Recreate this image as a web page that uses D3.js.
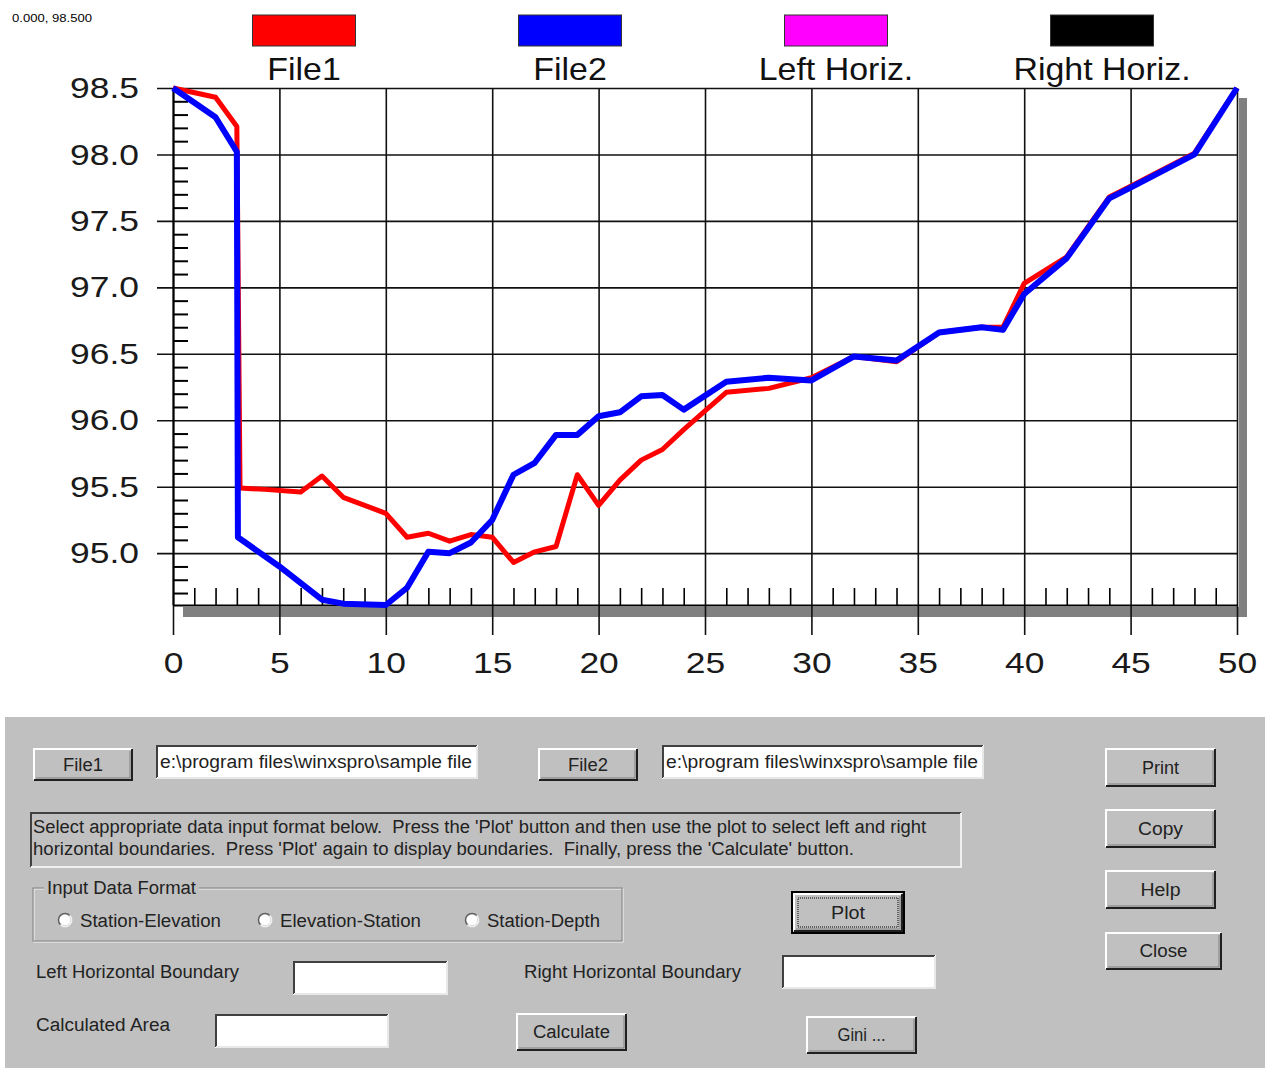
<!DOCTYPE html>
<html>
<head>
<meta charset="utf-8">
<script src="https://cdn.jsdelivr.net/npm/d3@7"></script>
<style>
  body { margin: 0; background: #fff; }
  svg { display: block; font-family: 'Liberation Sans', Arial, sans-serif; }
</style>
</head>
<body>
<div id="chart"></div>
<script>
// station / elevation pairs
const stations1 = [0, 2, 3, 3.15, 4.3, 6, 7, 8, 10, 11, 12, 13, 14, 15, 16, 17, 18, 19, 20, 21, 22, 23, 24, 25, 26, 28, 30, 32, 34, 36, 38, 39, 40, 42, 44, 45, 48, 50]
const elev1 = [98.5, 98.43, 98.21, 95.49, 95.48, 95.46, 95.58, 95.42, 95.30, 95.12, 95.15, 95.09, 95.14, 95.12, 94.93, 95.01, 95.05, 95.59, 95.36, 95.55, 95.70, 95.78, 95.93, 96.07, 96.21, 96.24, 96.32, 96.48, 96.44, 96.66, 96.70, 96.70, 97.03, 97.23, 97.68, 97.76, 98.01, 98.5]

const stations2 = [0, 2, 3, 3.05, 5, 7, 8, 10, 11, 12, 13, 14, 15, 16, 17, 18, 19, 20, 21, 22, 23, 24, 26, 28, 30, 32, 34, 36, 38, 39, 40, 42, 44, 45, 48, 50]
const elev2 = [98.5, 98.28, 98.02, 95.12, 94.90, 94.65, 94.62, 94.61, 94.74, 95.01, 95.0, 95.08, 95.25, 95.59, 95.68, 95.89, 95.89, 96.03, 96.06, 96.18, 96.19, 96.08, 96.29, 96.32, 96.30, 96.48, 96.45, 96.66, 96.70, 96.68, 96.95, 97.22, 97.67, 97.75, 98.0, 98.5]

const legendNames = ['File1', 'File2', 'Left Horiz.', 'Right Horiz.']
const legendColors = ['#ff0000', '#0000ff', '#ff00ff', '#000000']

const xMajorTicks = [0, 5, 10, 15, 20, 25, 30, 35, 40, 45, 50]
const yMajorTicks = [95.0, 95.5, 96.0, 96.5, 97.0, 97.5, 98.0, 98.5]
const yDomain = [94.61, 98.5]
const cursorLabel = '0.000, 98.500'

const W = 1265, H = 1068

const svg = d3.select('#chart').append('svg')
  .attr('width', W)
  .attr('height', H)

const x = d3.scaleLinear().domain([0, 50]).range([173, 1237])
const y = d3.scaleLinear().domain(yDomain).range([605, 88])

// stretch svg text horizontally (the original font is wider than Arial)
function stretch (sel, k) {
  sel.each(function () {
    const w = this.getComputedTextLength()
    d3.select(this).attr('textLength', w * k).attr('lengthAdjust', 'spacingAndGlyphs')
  })
}
function fit (sel, w) {
  sel.attr('textLength', w).attr('lengthAdjust', 'spacingAndGlyphs')
}

svg.append('text')
  .attr('x', 12).attr('y', 22)
  .style('font-size', '11px')
  .text(cursorLabel)
  .call(fit, 80)

// legend
const leg = svg.selectAll('.leg')
  .data(legendNames)
  .enter().append('g')
  .attr('class', 'leg')
  .attr('transform', (d, i) => 'translate(' + (304 + i * 266) + ',0)')

leg.append('rect')
  .attr('x', -51.5).attr('y', 15)
  .attr('width', 103).attr('height', 31)
  .attr('fill', (d, i) => legendColors[i])
  .attr('stroke', '#333')
  .attr('stroke-width', 1)

leg.append('text')
  .attr('y', 80)
  .attr('text-anchor', 'middle')
  .attr('fill', '#111')
  .style('font-size', '32px')
  .text(d => d)
  .call(stretch, 1.06)

// drop shadow of the plot frame
svg.append('rect').attr('x', 183).attr('y', 607).attr('width', 1064).attr('height', 10).attr('fill', '#808080')
svg.append('rect').attr('x', 1239).attr('y', 98).attr('width', 8).attr('height', 519).attr('fill', '#808080')

// horizontal grid + labels
const yMinor = d3.range(94.7, 98.5, 0.1).map(v => +v.toFixed(1)).filter(v => yMajorTicks.indexOf(v) < 0)
const xMinor = d3.range(1, 50).filter(v => v % 5 !== 0)

const gy = svg.append('g')
  .attr('transform', 'translate(157,0)')
  .call(d3.axisLeft(y).tickValues(yMajorTicks).tickFormat(d3.format('.1f'))
    .tickSizeInner(-(1237 - 157)).tickSizeOuter(0).tickPadding(18))
gy.select('.domain').remove()
gy.selectAll('.tick line').attr('stroke', '#111').attr('stroke-width', 1.6)
gy.selectAll('.tick text')
  .attr('fill', '#1a1a1a')
  .style('font-size', '30px')
  .style('font-family', "'Liberation Sans', Arial, sans-serif")
  .call(stretch, 1.18)

const gx = svg.append('g')
  .attr('transform', 'translate(0,635)')
  .call(d3.axisBottom(x).tickValues(xMajorTicks).tickFormat(d3.format('d'))
    .tickSizeInner(-(635 - 88)).tickSizeOuter(0).tickPadding(17))
gx.select('.domain').remove()
gx.selectAll('.tick line').attr('stroke', '#111').attr('stroke-width', 1.6)
gx.selectAll('.tick text')
  .attr('fill', '#1a1a1a')
  .style('font-size', '30px')
  .style('font-family', "'Liberation Sans', Arial, sans-serif")
  .call(stretch, 1.18)

// minor ticks and the axis lines themselves
const gym = svg.append('g')
  .attr('transform', 'translate(173,0)')
  .call(d3.axisLeft(y).tickValues(yMinor).tickFormat('').tickSizeInner(-15).tickSizeOuter(0))
gym.selectAll('line, path').attr('stroke', '#000').attr('stroke-width', 2)

const gxm = svg.append('g')
  .attr('transform', 'translate(0,605)')
  .call(d3.axisBottom(x).tickValues(xMinor).tickFormat('').tickSizeInner(-17).tickSizeOuter(0))
gxm.selectAll('line').attr('stroke', '#000').attr('stroke-width', 1.6)
gxm.select('.domain').attr('stroke', '#000').attr('stroke-width', 2.2)

// profiles
const line = d3.line().x(d => x(d[0])).y(d => y(d[1]))

svg.append('path')
  .datum(d3.zip(stations1, elev1))
  .attr('d', line)
  .attr('fill', 'none')
  .attr('stroke', legendColors[0])
  .attr('stroke-width', 5)
  .attr('stroke-linejoin', 'round')

svg.append('path')
  .datum(d3.zip(stations2, elev2))
  .attr('d', line)
  .attr('fill', 'none')
  .attr('stroke', legendColors[1])
  .attr('stroke-width', 6)
  .attr('stroke-linejoin', 'round')

// ---- control panel below the chart ----
const panel = svg.append('g').style('font-size', '18px')

panel.append('rect')
  .attr('x', 5).attr('y', 717).attr('width', W - 5).attr('height', H - 717)
  .attr('fill', '#c0c0c0')

function bevel (g, x0, y0, w, h, tl, br) {
  g.append('path').attr('d', 'M' + x0 + ',' + (y0 + h) + 'V' + y0 + 'H' + (x0 + w))
    .attr('fill', 'none').attr('stroke', tl).attr('stroke-width', 2)
  g.append('path').attr('d', 'M' + x0 + ',' + (y0 + h) + 'H' + (x0 + w) + 'V' + y0)
    .attr('fill', 'none').attr('stroke', br).attr('stroke-width', 2)
}

function button (x0, y0, w, h, label, tw, isDefault) {
  const g = panel.append('g')
  g.append('rect').attr('x', x0).attr('y', y0).attr('width', w).attr('height', h).attr('fill', '#c0c0c0')
  if (isDefault) {
    g.append('rect').attr('x', x0 - 1).attr('y', y0 - 1).attr('width', w + 2).attr('height', h + 2)
      .attr('fill', 'none').attr('stroke', '#000').attr('stroke-width', 2)
  }
  bevel(g, x0 + 1, y0 + 1, w - 2, h - 2, '#ffffff', '#202020')
  g.append('path').attr('d', 'M' + (x0 + 3) + ',' + (y0 + h - 3) + 'H' + (x0 + w - 3) + 'V' + (y0 + 3))
    .attr('fill', 'none').attr('stroke', '#808080').attr('stroke-width', 1)
  if (isDefault) {
    g.append('rect').attr('x', x0 + 5).attr('y', y0 + 5).attr('width', w - 10).attr('height', h - 10)
      .attr('fill', 'none').attr('stroke', '#000').attr('stroke-width', 1).attr('stroke-dasharray', '1,1')
  }
  g.append('text')
    .attr('x', x0 + w / 2).attr('y', y0 + h / 2).attr('dy', '0.35em')
    .attr('text-anchor', 'middle').attr('fill', '#222')
    .text(label).call(fit, tw)
}

function textbox (x0, y0, w, h, value, tw) {
  const g = panel.append('g')
  g.append('rect').attr('x', x0).attr('y', y0).attr('width', w).attr('height', h).attr('fill', '#fff')
  bevel(g, x0 + 1, y0 + 1, w - 2, h - 2, '#404040', '#e8e8e8')
  if (value) {
    g.append('text').attr('x', x0 + 4).attr('y', y0 + h / 2).attr('dy', '0.35em')
      .attr('fill', '#222').text(value).call(fit, tw)
  }
}

function label (x0, yc, txt, tw) {
  panel.append('text').attr('x', x0).attr('y', yc).attr('dy', '0.35em')
    .attr('fill', '#222').style('white-space', 'pre').text(txt).call(fit, tw)
}

const filePath = 'e:\\program files\\winxspro\\sample file'

button(33, 748, 100, 33, 'File1', 40)
textbox(156, 745, 322, 34, filePath, 312)
button(538, 748, 100, 33, 'File2', 40)
textbox(662, 745, 322, 34, filePath, 312)

button(1105, 748, 111, 39, 'Print', 37)
button(1105, 809, 111, 39, 'Copy', 45)
button(1105, 870, 111, 39, 'Help', 40)
button(1105, 932, 117, 38, 'Close', 48)

// message box
const msg = panel.append('g')
bevel(msg, 31, 813, 930, 54, '#404040', '#f0f0f0')
label(33, 827, "Select appropriate data input format below.  Press the 'Plot' button and then use the plot to select left and right", 893)
label(33, 849, "horizontal boundaries.  Press 'Plot' again to display boundaries.  Finally, press the 'Calculate' button.", 821)

// group box
panel.append('rect').attr('x', 34).attr('y', 889).attr('width', 589).attr('height', 53)
  .attr('fill', 'none').attr('stroke', '#f4f4f4').attr('stroke-width', 1)
panel.append('rect').attr('x', 33).attr('y', 888).attr('width', 589).attr('height', 53)
  .attr('fill', 'none').attr('stroke', '#808080').attr('stroke-width', 1)
panel.append('rect').attr('x', 44).attr('y', 880).attr('width', 155).attr('height', 16).attr('fill', '#c0c0c0')
label(47, 888, 'Input Data Format', 149)

const radios = [[65, 'Station-Elevation', 141], [265, 'Elevation-Station', 141], [472, 'Station-Depth', 113]]
radios.forEach(r => {
  panel.append('circle').attr('cx', r[0]).attr('cy', 920).attr('r', 6.5).attr('fill', '#fff')
    .attr('stroke', '#606060').attr('stroke-width', 1.5)
  panel.append('path')
    .attr('d', d3.arc()({ innerRadius: 5.5, outerRadius: 7.5, startAngle: Math.PI * 0.25, endAngle: Math.PI * 1.25 }))
    .attr('transform', 'translate(' + r[0] + ',920)').attr('fill', '#f0f0f0')
  label(r[0] + 15, 921, r[1], r[2])
})

button(793, 893, 110, 39, 'Plot', 34, true)

label(36, 972, 'Left Horizontal Boundary', 203)
textbox(293, 961, 155, 34, '', 0)
label(524, 972, 'Right Horizontal Boundary', 217)
textbox(782, 955, 154, 34, '', 0)

label(36, 1025, 'Calculated Area', 134)
textbox(215, 1014, 174, 34, '', 0)
button(516, 1013, 111, 38, 'Calculate', 77)
button(806, 1016, 111, 38, 'Gini ...', 48)
</script>
</body>
</html>
